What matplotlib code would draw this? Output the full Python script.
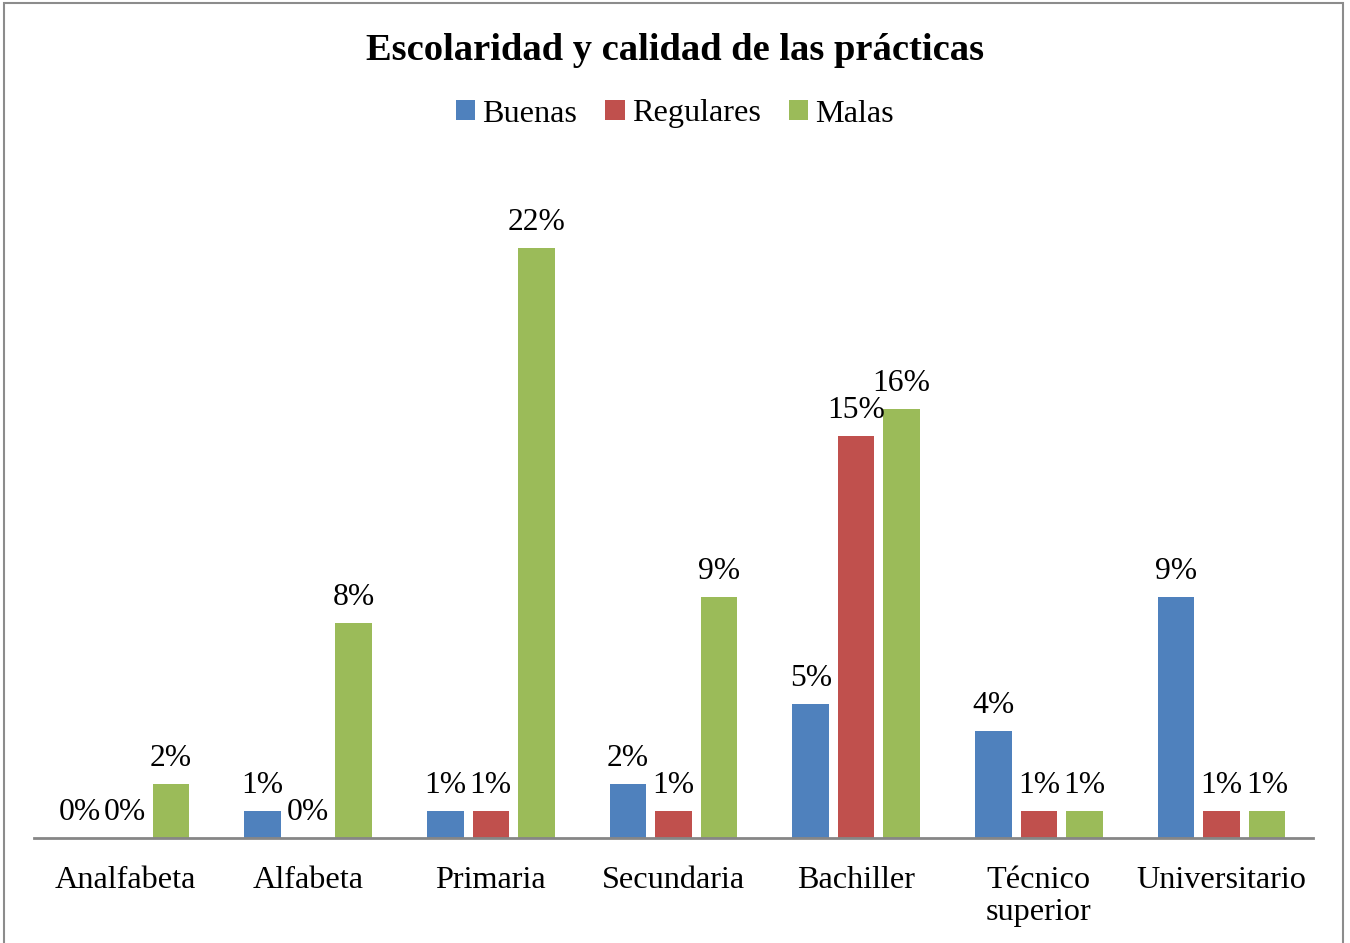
import numpy as np
import matplotlib.pyplot as plt
from matplotlib.patches import Rectangle

plt.rcParams['font.family'] = ['Liberation Serif', 'DejaVu Serif']

categorias = ['Analfabeta', 'Alfabeta', 'Primaria', 'Secundaria', 'Bachiller',
              'Técnico\nsuperior', 'Universitario']
buenas = [0, 1, 1, 2, 5, 4, 9]
regulares = [0, 0, 1, 1, 15, 1, 1]
malas = [2, 8, 22, 9, 16, 1, 1]
series = ['Buenas', 'Regulares', 'Malas']
colores = ['#4F81BD', '#C0504D', '#9BBB59']

fig = plt.figure(figsize=(13.5, 9.43), dpi=100)
# marco gris del grafico
fig.patches.append(Rectangle((4 / 1350, -0.01), 1339 / 1350, 1 - 3 / 943 + 0.01,
                             transform=fig.transFigure, fill=False,
                             edgecolor='#8c8c8c', linewidth=1.5))

ax = fig.add_axes([34 / 1350, 1 - 838 / 943, (1313 - 34) / 1350, 670.5 / 943])

x = np.arange(len(categorias))
w = 0.2
paso = 0.249
for i, (vals, nombre, c) in enumerate(zip([buenas, regulares, malas], series, colores)):
    pos = x + (i - 1) * paso
    ax.bar(pos, np.array(vals) / 100, width=w, color=c, label=nombre)
    for px, v in zip(pos, vals):
        ax.annotate(f'{v}%', (px, v / 100), xytext=(0, 8), textcoords='offset points',
                    ha='center', va='bottom', fontsize=22.8)

ax.set_xlim(-0.5, len(categorias) - 0.5)
ax.set_ylim(0, 0.25)
ax.set_yticks([])
ax.set_xticks(x)
ax.set_xticklabels(categorias, fontsize=23.2, linespacing=1.15)
ax.tick_params(axis='x', length=0, pad=20)
for s in ['top', 'right', 'left']:
    ax.spines[s].set_visible(False)
ax.spines['bottom'].set_color('#868686')
ax.spines['bottom'].set_linewidth(2)

fig.text(0.5, 1 - 50 / 943, 'Escolaridad y calidad de las prácticas', ha='center',
         va='center', fontsize=27.7, fontweight='bold')
fig.legend(loc='center', bbox_to_anchor=(0.5, 1 - 114 / 943), ncol=3, frameon=False,
           fontsize=23.2, handlelength=0.6, handleheight=0.6, handletextpad=0.22,
           columnspacing=0.88)

fig.savefig('out.png', dpi=100)
